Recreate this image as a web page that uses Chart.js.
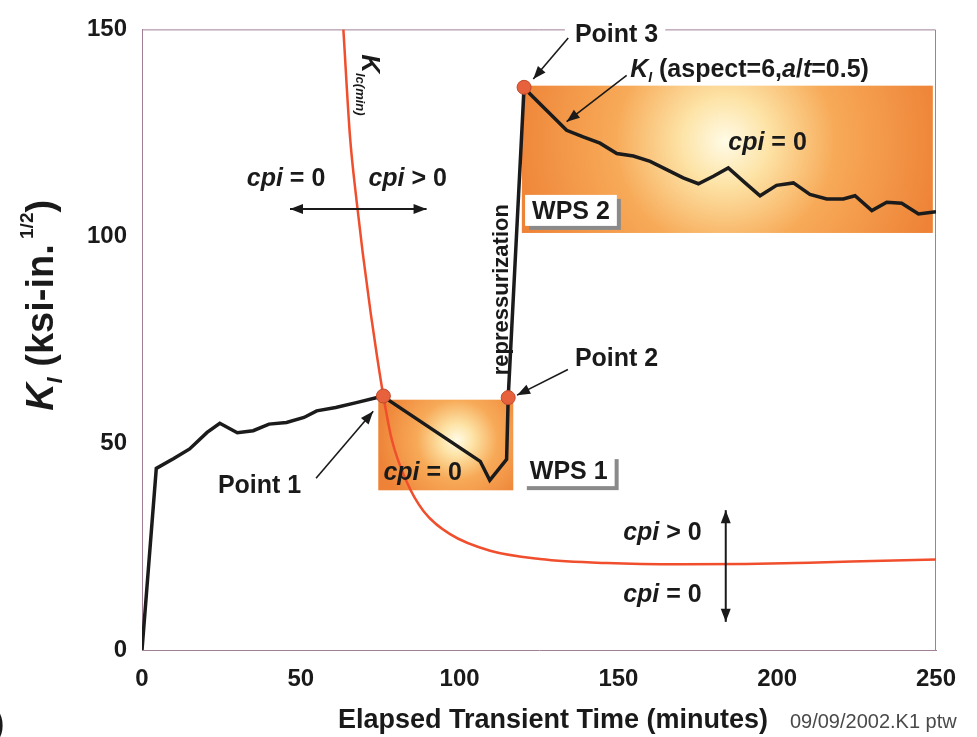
<!DOCTYPE html>
<html>
<head>
<meta charset="utf-8">
<script src="https://cdn.jsdelivr.net/npm/chart.js@4.4.1/dist/chart.umd.min.js"></script>
<style>
  html, body { margin: 0; padding: 0; background: #fff; }
  #wrap { width: 977px; height: 737px; }
</style>
</head>
<body>
<div id="wrap"><canvas id="kchart"></canvas></div>
<script>
// applied K_I along the transient (time in minutes, K in ksi-in^1/2)
const timeKI = [0, 4.5, 10, 15, 20.5, 24.5, 30, 35, 40, 45.5, 51, 55, 61, 67.5, 76,
  78, 106.5, 109.5, 114.8, 115.3,
  120.3, 122.2, 133.7, 138.9, 144.2, 149.5, 154.7, 160, 165.2, 170.4, 175.2, 179.9,
  184.6, 189.9, 194.6, 199.8, 205.1, 210.3, 215.6, 220.8, 224.5, 229.8, 234.5, 239.2, 244.5, 250];
const valuesKI = [0, 43.9, 46.3, 48.6, 52.6, 54.8, 52.5, 53, 54.6, 55, 56.2, 57.8, 58.6, 59.8, 61.4,
  60.2, 45.6, 41, 46.1, 61,
  136, 134.4, 125.6, 124, 122.5, 120, 119.4, 118.1, 116.1, 114.1, 112.7, 114.5,
  116.5, 112.9, 109.8, 112.3, 112.9, 110.1, 109, 109, 109.8, 106.2, 108.2, 108, 105.4, 105.9];

// K_Ic(min) curve
const timeKIc = [63.4, 65.5, 67.5, 69.5, 72, 74, 76, 78.6, 83.3, 88.6, 97, 109.6, 125.3, 146.3, 170, 190, 210, 230, 250];
const valuesKIc = [150, 124, 109, 96, 81.5, 71, 61.4, 51, 40.7, 33.6, 28, 24, 22, 21, 20.7, 20.8, 21.1, 21.5, 21.9];

// Point 1, Point 2, Point 3
const pointTimes = [76, 115.3, 120.3];
const pointValues = [61.4, 61, 136];

const xTicks = [0, 50, 100, 150, 200, 250];
const yTicks = [0, 50, 100, 150];

const FAM = "'Liberation Sans', Arial, sans-serif";
const INK = '#1a1a1a';

const toXY = (xs, ys) => xs.map((x, i) => ({ x: x, y: ys[i] }));

function head(ctx, x1, y1, x2, y2) {
  const a = Math.atan2(y2 - y1, x2 - x1), L = 13, W = 5;
  ctx.beginPath();
  ctx.moveTo(x2, y2);
  ctx.lineTo(x2 - L * Math.cos(a) + W * Math.sin(a), y2 - L * Math.sin(a) - W * Math.cos(a));
  ctx.lineTo(x2 - L * Math.cos(a) - W * Math.sin(a), y2 - L * Math.sin(a) + W * Math.cos(a));
  ctx.closePath();
  ctx.fill();
}

function arrow(ctx, x1, y1, x2, y2, both, w) {
  ctx.save();
  ctx.strokeStyle = INK;
  ctx.fillStyle = INK;
  ctx.lineWidth = w;
  ctx.beginPath();
  ctx.moveTo(x1, y1);
  ctx.lineTo(x2, y2);
  ctx.stroke();
  head(ctx, x1, y1, x2, y2);
  if (both) head(ctx, x2, y2, x1, y1);
  ctx.restore();
}

// draws a run of text pieces: [text, font, dy]
function rich(ctx, parts, x, y) {
  let cx = x;
  parts.forEach(p => {
    ctx.font = p[1];
    ctx.fillText(p[0], cx, y + (p[2] || 0));
    cx += ctx.measureText(p[0]).width;
  });
  return cx - x;
}
function richWidth(ctx, parts) {
  let w = 0;
  parts.forEach(p => { ctx.font = p[1]; w += ctx.measureText(p[0]).width; });
  return w;
}

const B25 = 'bold 25px ' + FAM;
const BI25 = 'italic bold 25px ' + FAM;
const cpiEq = [['cpi', BI25], [' = 0', B25]];
const cpiGt = [['cpi', BI25], [' > 0', B25]];

function wpsBox(ctx, X, Y, x0, y0, x1, y1, cx, cy, r) {
  const l = X(x0), t = Y(y0), w = X(x1) - l, h = Y(y1) - t;
  const g = ctx.createRadialGradient(X(cx), Y(cy), 0, X(cx), Y(cy), r);
  g.addColorStop(0, '#fffbe6');
  g.addColorStop(0.2, '#fde3a6');
  g.addColorStop(0.5, '#f7aa58');
  g.addColorStop(1, '#ee8236');
  ctx.fillStyle = g;
  ctx.fillRect(l, t, w, h);
}

function labelBox(ctx, text, x, y) {
  ctx.font = B25;
  const w = ctx.measureText(text).width;
  ctx.fillStyle = '#8a8a8a';
  ctx.fillRect(x - 6 + 4, y - 24 + 4, w + 14, 31);
  ctx.fillStyle = '#ffffff';
  ctx.fillRect(x - 6, y - 24, w + 14, 31);
  ctx.fillStyle = INK;
  ctx.fillText(text, x + 1, y);
}

const decor = {
  id: 'decor',
  beforeDatasetsDraw(chart) {
    const ctx = chart.ctx, a = chart.chartArea;
    const X = v => chart.scales.x.getPixelForValue(v);
    const Y = v => chart.scales.y.getPixelForValue(v);
    ctx.save();
    wpsBox(ctx, X, Y, 74.4, 60.5, 116.9, 38.6, 99.2, 50.8, 80);
    wpsBox(ctx, X, Y, 119.6, 136.4, 249, 100.8, 183.6, 123, 220);
    // frame top and right
    ctx.strokeStyle = '#a08096';
    ctx.lineWidth = 1;
    ctx.beginPath();
    ctx.moveTo(a.left, a.top + 0.5);
    ctx.lineTo(a.right - 0.5, a.top + 0.5);
    ctx.lineTo(a.right - 0.5, a.bottom);
    ctx.stroke();
    ctx.restore();
  },
  afterDraw(chart) {
    const ctx = chart.ctx, a = chart.chartArea;
    const X = v => chart.scales.x.getPixelForValue(v);
    const Y = v => chart.scales.y.getPixelForValue(v);
    ctx.save();
    ctx.fillStyle = INK;
    ctx.textBaseline = 'alphabetic';
    ctx.textAlign = 'left';

    // cpi labels
    rich(ctx, cpiEq, X(33), Y(112.2));
    rich(ctx, cpiGt, X(71.3), Y(112.2));
    arrow(ctx, X(46.6), Y(106.6), X(89.6), Y(106.6), true, 2);
    rich(ctx, cpiEq, X(76), Y(41));
    rich(ctx, cpiEq, X(184.6), Y(120.9));
    rich(ctx, cpiGt, X(151.5), Y(26.7));
    rich(ctx, cpiEq, X(151.5), Y(11.5));
    arrow(ctx, X(183.8), Y(33.8), X(183.8), Y(6.8), true, 2);

    // WPS labels
    labelBox(ctx, 'WPS 1', X(121.8), Y(41.3));
    labelBox(ctx, 'WPS 2', X(122.5), Y(104.2));

    // point labels and arrows
    ctx.fillStyle = INK;
    ctx.font = B25;
    ctx.fillText('Point 1', X(23.9), Y(38));
    arrow(ctx, X(54.8), Y(41.5), X(72.8), Y(57.7), false, 1.6);
    ctx.fillText('Point 2', X(136.3), Y(68.7));
    arrow(ctx, X(134.1), Y(67.8), X(118.1), Y(61.6), false, 1.6);

    const p3 = X(136.3), p3y = Y(146.97);
    const p3w = ctx.measureText('Point 3').width;
    ctx.fillStyle = '#ffffff';
    ctx.fillRect(p3 - 10, p3y - 24, p3w + 17, 28);
    ctx.fillStyle = INK;
    ctx.fillText('Point 3', p3, p3y);
    arrow(ctx, X(134.2), Y(147.9), X(123.2), Y(138), false, 1.6);

    rich(ctx, [['K', 'italic bold 25px ' + FAM], ['I', 'italic bold 14px ' + FAM, 5],
      [' (aspect=6,', B25], ['a', BI25], ['/', B25], ['t', BI25], ['=0.5)', B25]], X(153.7), Y(138.5));
    arrow(ctx, X(152.6), Y(138.9), X(133.7), Y(127.7), false, 1.6);

    // repressurization
    ctx.save();
    ctx.translate(X(115.2), Y(66.4));
    ctx.rotate(-Math.PI / 2);
    ctx.font = 'bold 22px ' + FAM;
    ctx.fillText('repressurization', 0, 0);
    ctx.restore();

    // K_Ic(min) label on the red curve
    ctx.save();
    ctx.translate(X(69.2), Y(144));
    ctx.rotate(Math.PI / 2);
    rich(ctx, [['K', 'italic bold 26px ' + FAM], ['Ic(min)', 'italic bold 13px ' + FAM, 6]], 0, 0);
    ctx.restore();

    // y axis title
    const yParts = [['K', 'italic bold 38px ' + FAM], ['I', 'italic bold 22px ' + FAM, 9],
      [' (ksi-in.', 'bold 38px ' + FAM], [' 1/2', 'bold 19px ' + FAM, -20], [')', 'bold 38px ' + FAM]];
    const yw = richWidth(ctx, yParts);
    ctx.save();
    ctx.translate(a.left - 89, Y(83.3) + yw / 2);
    ctx.rotate(-Math.PI / 2);
    rich(ctx, yParts, 0, 0);
    ctx.restore();

    // x axis title and stamp
    ctx.font = 'bold 27px ' + FAM;
    ctx.fillText('Elapsed Transient Time (minutes)', X(61.7), a.bottom + 78);
    ctx.font = '20px ' + FAM;
    ctx.fillStyle = '#4a4a4a';
    ctx.fillText('09/09/2002.K1 ptw', X(204), a.bottom + 78);
    ctx.fillStyle = INK;
    ctx.font = 'bold 34px ' + FAM;
    ctx.fillText(')', -7, 734);
    ctx.restore();
  }
};

new Chart(document.getElementById('kchart'), {
  type: 'line',
  data: {
    datasets: [
      {
        label: 'Points',
        data: toXY(pointTimes, pointValues),
        showLine: false,
        pointRadius: 7,
        pointBackgroundColor: '#e8613d',
        pointBorderColor: '#c04a2c',
        pointBorderWidth: 1
      },
      {
        label: 'K_I',
        data: toXY(timeKI, valuesKI),
        borderColor: '#1b1b1b',
        borderWidth: 3.5,
        pointRadius: 0,
        tension: 0
      },
      {
        label: 'K_Ic(min)',
        data: toXY(timeKIc, valuesKIc),
        borderColor: '#f04e2c',
        borderWidth: 2.5,
        pointRadius: 0,
        cubicInterpolationMode: 'monotone'
      }
    ]
  },
  options: {
    responsive: true,
    maintainAspectRatio: false,
    animation: false,
    events: [],
    layout: { padding: { top: 22, right: 41, left: 0, bottom: 0 } },
    plugins: { legend: { display: false }, tooltip: { enabled: false } },
    scales: {
      x: {
        type: 'linear',
        min: 0,
        max: 250,
        afterBuildTicks: s => { s.ticks = xTicks.map(v => ({ value: v })); },
        afterFit: s => { s.height = 87; },
        grid: { display: false, drawTicks: false },
        border: { display: true, color: '#a08096', width: 1 },
        ticks: { color: INK, padding: 15, maxRotation: 0, font: { family: FAM, size: 24, weight: 'bold' } }
      },
      y: {
        type: 'linear',
        min: 0,
        max: 150,
        afterBuildTicks: s => { s.ticks = yTicks.map(v => ({ value: v })); },
        afterFit: s => { s.width = 142; },
        grid: { display: false, drawTicks: false },
        border: { display: true, color: '#a08096', width: 1 },
        ticks: { color: INK, padding: 15, font: { family: FAM, size: 24, weight: 'bold' } }
      }
    }
  },
  plugins: [decor]
});
</script>
</body>
</html>
